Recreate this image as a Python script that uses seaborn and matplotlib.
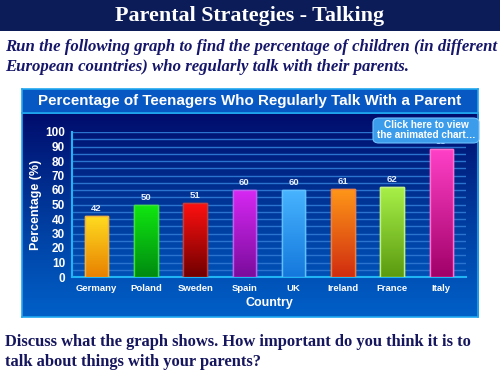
import numpy as np
import pandas as pd
import matplotlib.pyplot as plt
import matplotlib.colors as mcolors
from matplotlib.patches import FancyBboxPatch, Rectangle
import seaborn as sns

# Dados do grafico
paises = ["Germany", "Poland", "Sweden", "Spain", "UK", "Ireland", "France", "Italy"]
percentagens = [42, 50, 51, 60, 60, 61, 62, 88]
cor_topo = ["#ffdc20", "#10e810", "#ff1010", "#d828f4", "#48b4ff", "#ff9818", "#a8f048", "#ff40c8"]
cor_base = ["#e88000", "#008a10", "#700000", "#7a0c9c", "#1478dc", "#d02c10", "#5a9a10", "#a00068"]
cor_borda = ["#f0b040", "#40e040", "#c04040", "#c060f0", "#60c0ff", "#f08040", "#c0f080", "#ff70d0"]

titulo = "Parental Strategies - Talking"
subtitulo = ["Run the following graph to find the percentage of children (in different",
             "European countries) who regularly talk with their parents."]
pergunta = ["Discuss what the graph shows. How important do you think it is to",
            "talk about things with your parents?"]
titulo_grafico = "Percentage of Teenagers Who Regularly Talk With a Parent"

df = pd.DataFrame({"Pais": paises, "Percentagem": percentagens})

sns.set_style("white")
plt.rcParams["font.family"] = ["Liberation Sans", "DejaVu Sans"]

W, H = 500, 375
fig = plt.figure(figsize=(5, 3.75), dpi=100)
fig.patch.set_facecolor("white")


def caixa(x0, y0, x1, y1):
    # converte pixels (origem em cima) para fracao da figura
    return [x0 / W, 1 - y1 / H, (x1 - x0) / W, (y1 - y0) / H]


# Faixa do titulo do slide
ax_top = fig.add_axes(caixa(0, 0, 500, 31))
ax_top.set_facecolor("#0c1c58")
ax_top.set_xticks([])
ax_top.set_yticks([])
for s in ax_top.spines.values():
    s.set_visible(False)
ax_top.text(0.5, 0.47, titulo, ha="center", va="center", color="white",
            fontsize=15.8, fontweight="bold", family="Liberation Serif",
            transform=ax_top.transAxes)

# Texto do slide
for i, linha in enumerate(subtitulo):
    fig.text(5 / W, 1 - (47 + i * 20) / H, linha, ha="left", va="center",
             color="#16166a", fontsize=12.1, fontweight="bold", style="italic",
             family="Liberation Serif")
for i, linha in enumerate(pergunta):
    fig.text(5 / W, 1 - (342 + i * 20) / H, linha, ha="left", va="center",
             color="#16165e", fontsize=11.9, fontweight="bold",
             family="Liberation Serif")

# Painel de fundo com gradiente
ax_bg = fig.add_axes(caixa(22, 113, 478, 317))
grad = np.linspace(0, 1, 256).reshape(-1, 1)
cmap_bg = mcolors.LinearSegmentedColormap.from_list("bg", ["#000c6c", "#003a9c", "#0060c8"])
ax_bg.imshow(grad, aspect="auto", cmap=cmap_bg, extent=[0, 1, 0, 1], origin="upper")
ax_bg.set_xticks([])
ax_bg.set_yticks([])
for s in ax_bg.spines.values():
    s.set_color("#20a8f0")
    s.set_linewidth(1.2)

# Faixa do titulo do grafico
ax_tt = fig.add_axes(caixa(22, 89, 478, 113))
ax_tt.set_facecolor("#0858c4")
ax_tt.set_xticks([])
ax_tt.set_yticks([])
for s in ax_tt.spines.values():
    s.set_color("#20a8f0")
    s.set_linewidth(1.2)
ax_tt.text(0.5, 0.5, titulo_grafico, ha="center", va="center", color="white",
           fontsize=10.9, fontweight="bold", transform=ax_tt.transAxes)

# Grafico de barras
ax = fig.add_axes(caixa(72, 132, 466, 277))
ax.patch.set_alpha(0)
sns.barplot(data=df, x="Pais", y="Percentagem", hue="Pais", palette=cor_topo,
            legend=False, width=0.48, ax=ax, zorder=3)

ax.set_ylim(0, 100)
ax.set_xlim(-0.5, len(paises) - 0.5)
ax.set_yticks(range(0, 101, 10))
ax.set_yticks(range(5, 100, 10), minor=True)
ax.grid(True, axis="y", which="both", color="#2a74d0", linewidth=1.0, zorder=0)
ax.set_axisbelow(True)

for i, barra in enumerate(ax.patches):
    x0, y0 = barra.get_x(), barra.get_y()
    w, h = barra.get_width(), barra.get_height()
    cm = mcolors.LinearSegmentedColormap.from_list("b%d" % i, [cor_topo[i], cor_base[i]])
    img = ax.imshow(grad, aspect="auto", cmap=cm, extent=[x0, x0 + w, y0, y0 + h],
                    origin="upper", zorder=3.5)
    img.set_clip_path(barra)
    barra.set_edgecolor(cor_borda[i])
    barra.set_linewidth(1.0)
    ax.add_patch(Rectangle((x0, y0), w, h, fill=False, edgecolor=cor_borda[i],
                           linewidth=1.0, zorder=4))
    ax.text(i, h + 2, str(percentagens[i]), ha="center", va="bottom",
            color="#e8f0ff", fontsize=6.8, fontweight="bold", zorder=5)
ax.set_aspect("auto")

ax.set_xticks(range(len(paises)))
ax.set_xticklabels(paises)
ax.set_xticks(np.arange(0.5, len(paises) - 0.5, 1), minor=True)
ax.tick_params(axis="x", which="major", length=0, colors="white", labelsize=6.8, pad=5)
ax.tick_params(axis="x", which="minor", length=4, width=1.2, direction="inout", color="#20b4f4")
ax.tick_params(axis="y", which="major", length=4, width=1.2, direction="out",
               color="#20b4f4", labelcolor="white", labelsize=8.5, pad=1)
ax.tick_params(axis="y", which="minor", length=0)
for lbl in ax.get_xticklabels() + ax.get_yticklabels():
    lbl.set_fontweight("bold")

for lado in ["top", "right"]:
    ax.spines[lado].set_visible(False)
for lado in ["left", "bottom"]:
    ax.spines[lado].set_color("#20b4f4")
    ax.spines[lado].set_linewidth(1.5)

ax.set_xlabel("Country", color="white", fontsize=9, fontweight="bold", labelpad=3)
ax.set_ylabel("Percentage (%)", color="white", fontsize=9, fontweight="bold", labelpad=2)

# Botao "Click here"
bot = FancyBboxPatch((373 / W, 1 - 143 / H), 106 / W, 25 / H,
                     boxstyle="round,pad=0,rounding_size=0.012",
                     transform=fig.transFigure, facecolor="#3c9cec",
                     edgecolor="#6cc0ff", linewidth=0.8, zorder=10)
fig.patches.append(bot)
fig.text(426 / W, 1 - 130.5 / H, "Click here to view\nthe animated chart\u2026",
         ha="center", va="center", color="white", fontsize=7.2, fontweight="bold",
         linespacing=1.0, zorder=11)

fig.savefig("out.png", dpi=100)
